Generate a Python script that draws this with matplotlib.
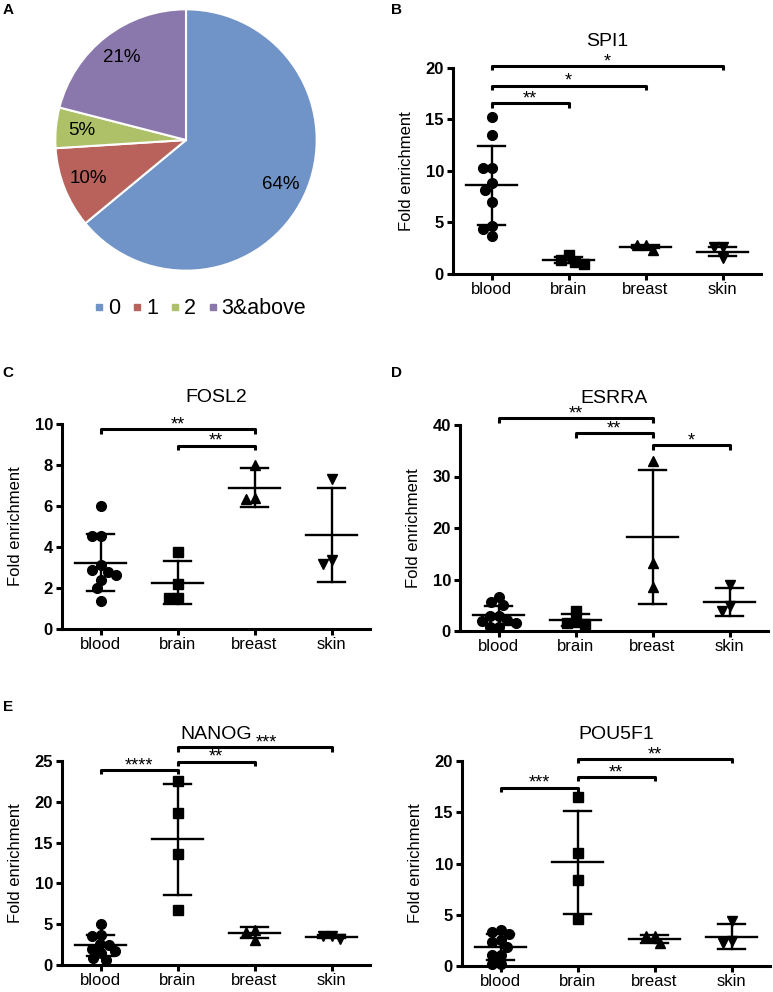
import numpy as np
import matplotlib
matplotlib.use('Agg')
import matplotlib.pyplot as plt
from matplotlib.lines import Line2D

plt.rcParams['font.family'] = ['Liberation Sans', 'DejaVu Sans']

# ---- data ----
pie_labels = ['0', '1', '2', '3&above']
pie_values = [64, 10, 5, 21]
pie_colors = ['#7094c8', '#b8625b', '#aec168', '#8a78ac']

tissues = ['blood', 'brain', 'breast', 'skin']

spi1 = [[15.2, 13.5, 10.3, 10.3, 8.8, 8.2, 7.0, 4.7, 4.4, 3.7],
        [1.4, 1.0, 1.2, 1.85],
        [2.8, 2.8, 2.3],
        [2.6, 2.6, 1.6]]
spi1_mean = [8.6, 1.36, 2.65, 2.15]
spi1_sd = [3.85, 0.32, 0.15, 0.45]
spi1_sig = [(0, 1, 16.6, '**'), (0, 2, 18.3, '*'), (0, 3, 20.2, '*')]

fosl2 = [[6.0, 4.55, 4.55, 3.1, 2.9, 2.8, 2.65, 2.4, 2.0, 1.35],
         [3.75, 2.2, 1.5, 1.5],
         [8.0, 6.4, 6.35],
         [7.3, 3.35, 3.15]]
fosl2_mean = [3.23, 2.25, 6.9, 4.6]
fosl2_sd = [1.4, 1.05, 0.95, 2.3]
fosl2_sig = [(0, 2, 9.75, '**'), (1, 2, 8.95, '**')]

esrra = [[6.6, 5.6, 5.0, 3.0, 3.0, 2.2, 2.0, 1.5, 0.8, 0.8],
         [3.9, 1.8, 1.6, 1.4],
         [33.0, 13.2, 8.5],
         [8.9, 4.8, 3.9]]
esrra_mean = [3.05, 2.2, 18.3, 5.65]
esrra_sd = [1.9, 1.15, 13.0, 2.7]
esrra_sig = [(0, 2, 41.3, '**'), (1, 2, 38.4, '**'), (2, 3, 36.1, '*')]

nanog = [[5.0, 3.7, 3.5, 2.6, 2.5, 2.0, 1.7, 1.5, 0.9, 0.6],
         [22.5, 18.6, 13.6, 6.7],
         [4.35, 4.1, 3.05],
         [3.6, 3.6, 3.2]]
nanog_mean = [2.4, 15.4, 3.95, 3.45]
nanog_sd = [1.3, 6.8, 0.7, 0.2]
nanog_sig = [(0, 1, 23.9, '****'), (1, 2, 24.9, '**'), (1, 3, 26.7, '***')]

pou5f1 = [[3.5, 3.3, 3.15, 2.5, 2.3, 1.85, 1.1, 1.1, 0.15, 0.15],
          [16.5, 11.0, 8.35, 4.6],
          [2.95, 2.9, 2.2],
          [4.4, 2.45, 2.2]]
pou5f1_mean = [1.85, 10.1, 2.65, 2.85]
pou5f1_sd = [1.25, 5.0, 0.4, 1.2]
pou5f1_sig = [(0, 1, 17.4, '***'), (1, 2, 18.45, '**'), (1, 3, 20.2, '**')]

# ---- layout ----
W, H = 773, 992
fig = plt.figure(figsize=(W / 100, H / 100), dpi=100)
renderer = fig.canvas.get_renderer()


def px_axes(left, top, right, bottom):
    return fig.add_axes([left / W, 1 - bottom / H, (right - left) / W, (bottom - top) / H])


def swarm(vals, h_px, ymax, x_px, diam=9.0):
    # simple beeswarm: place points from top down, nearest free x offset
    vals = np.asarray(vals)
    order = np.argsort(-vals)
    cands = sorted(np.arange(-60, 61) * 0.5, key=lambda c: (abs(c), c))
    placed = []
    offs = np.zeros(len(vals))
    for i in order:
        y = vals[i] / ymax * h_px
        for c in cands:
            if all((c - px) ** 2 + (y - py) ** 2 >= diam ** 2 for px, py in placed):
                break
        placed.append((c, y))
        offs[i] = c / x_px
    return offs


markers = ['o', 's', '^', 'v']
msizes = [7, 6.5, 7, 7]
STAR_FS = 13
TITLE_FS = 14


def dot_panel(box, title, groups, means, sds, sigs, ymax, ystep):
    ax = px_axes(*box)
    w_px = box[2] - box[0]
    h_px = box[3] - box[1]
    x_px = w_px / 4.0
    x = np.arange(len(tissues))
    for i, vals in enumerate(groups):
        offs = swarm(vals, h_px, ymax, x_px)
        ax.plot(x[i] + offs, vals, linestyle='none', marker=markers[i],
                ms=msizes[i], color='black', clip_on=False, zorder=3)
        m, s = means[i], sds[i]
        ax.plot([x[i] - 0.33, x[i] + 0.33], [m, m], color='black', lw=1.7, clip_on=False)
        ax.plot([x[i] - 0.17, x[i] + 0.17], [m + s, m + s], color='black', lw=1.7, clip_on=False)
        ax.plot([x[i] - 0.17, x[i] + 0.17], [m - s, m - s], color='black', lw=1.7, clip_on=False)
        ax.plot([x[i], x[i]], [m - s, m + s], color='black', lw=1.7, clip_on=False)
    ax.set_xlim(-0.5, 3.5)
    ax.set_ylim(0, ymax)
    ax.set_yticks(np.arange(0, ymax + 0.01, ystep))
    ax.set_yticklabels([f'{v:g}' for v in np.arange(0, ymax + 0.01, ystep)],
                       fontweight='bold', fontsize=12)
    ax.set_xticks(x)
    ax.set_xticklabels(tissues, fontsize=12)
    for sp in ['top', 'right']:
        ax.spines[sp].set_visible(False)
    for sp in ['left', 'bottom']:
        ax.spines[sp].set_linewidth(2.2)
    ax.tick_params(axis='both', width=2.2, length=4.5, pad=2)
    ax.tick_params(axis='x', pad=1.5)
    ax.set_ylabel('Fold enrichment', fontsize=12, labelpad=8)
    ttl = ax.set_title(title, fontsize=TITLE_FS, pad=16)

    tick = ymax * 0.022
    tb = ttl.get_window_extent(renderer)
    t_fs = TITLE_FS * fig.dpi / 72
    s_fs = STAR_FS * fig.dpi / 72
    t_base = tb.y0 + 0.21 * t_fs
    t_top = t_base + 0.72 * t_fs
    for a, b, y, lab in sigs:
        ax.plot([x[a], x[a], x[b], x[b]], [y - tick, y, y, y - tick],
                color='black', lw=2.2, clip_on=False, solid_capstyle='butt')
        ann = ax.annotate(lab, ((x[a] + x[b]) / 2, y), xytext=(0, -3),
                          textcoords='offset points', ha='center', va='bottom',
                          fontsize=STAR_FS, annotation_clip=False)
        # nudge stars sideways if the glyphs run into the title
        bb = ann.get_window_extent(renderer)
        s_lo = bb.y0 + 0.64 * s_fs
        s_hi = bb.y0 + 0.93 * s_fs
        if bb.x0 < tb.x1 and bb.x1 > tb.x0 and s_lo < t_top and s_hi > t_base + 1:
            shift = (tb.x1 - bb.x0 + 4) * 72 / fig.dpi
            ann.set_position((shift, -3))
    return ax


# ---- A: pie ----
cx, cy, r = 186, 140, 132
ax_pie = px_axes(cx - r, cy - r, cx + r, cy + r)
ax_pie.pie(pie_values, colors=pie_colors, startangle=90, counterclock=False,
           autopct=lambda p: f'{p:.0f}%', pctdistance=0.8,
           wedgeprops=dict(edgecolor='white', linewidth=1.5),
           textprops=dict(fontsize=13.5))
ax_pie.set_xlim(-1.01, 1.01)
ax_pie.set_ylim(-1.01, 1.01)

handles = [Line2D([], [], linestyle='none', marker='s', ms=5, color=c) for c in pie_colors]
fig.legend(handles, pie_labels, loc='center', bbox_to_anchor=(199 / W, 1 - 309 / H),
           ncol=4, frameon=False, fontsize=15.5, handletextpad=0.05, columnspacing=0.45,
           handlelength=0.7)

# ---- B-F ----
dot_panel((453, 68, 761, 274), 'SPI1', spi1, spi1_mean, spi1_sd, spi1_sig, 20, 5)
dot_panel((62, 424, 370, 629), 'FOSL2', fosl2, fosl2_mean, fosl2_sd, fosl2_sig, 10, 2)
dot_panel((460, 425, 768, 631), 'ESRRA', esrra, esrra_mean, esrra_sd, esrra_sig, 40, 10)
dot_panel((62, 761, 370, 965), 'NANOG', nanog, nanog_mean, nanog_sd, nanog_sig, 25, 5)
dot_panel((462, 761, 770, 966), 'POU5F1', pou5f1, pou5f1_mean, pou5f1_sd, pou5f1_sig, 20, 5)

# panel letters
for lab, px, py in [('A', 8, 10), ('B', 397, 10), ('C', 8, 373), ('D', 397, 373), ('E', 8, 707)]:
    fig.text(px / W, 1 - py / H, lab, fontsize=11, fontweight='bold', ha='center', va='center')

fig.savefig('out.png', dpi=100)
